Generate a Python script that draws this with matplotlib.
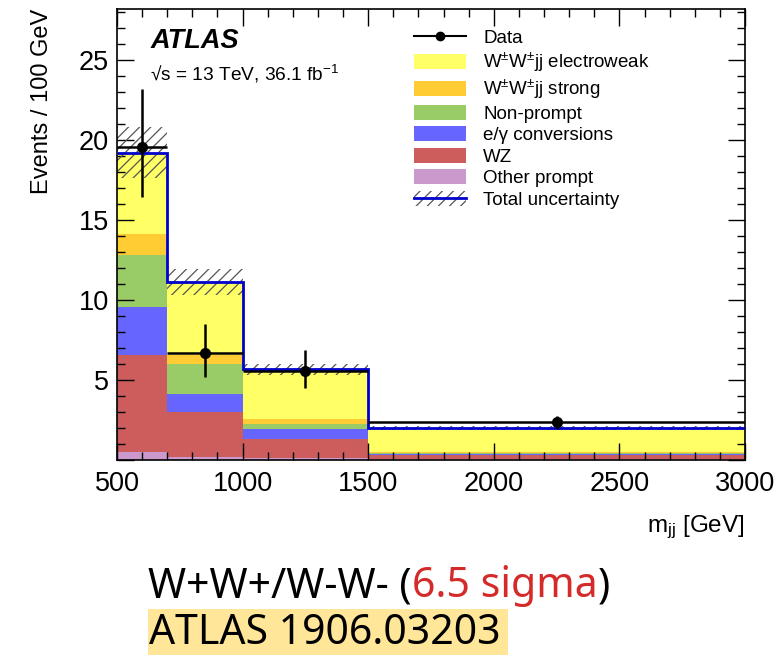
import matplotlib
matplotlib.use("Agg")
import matplotlib.pyplot as plt
import numpy as np
from matplotlib.patches import Patch, Rectangle
from matplotlib.lines import Line2D
from matplotlib.legend_handler import HandlerTuple
from matplotlib.ticker import MultipleLocator

# ---- data ----
edges = [500, 700, 1000, 1500, 3000]
other_prompt = [0.52, 0.21, 0.10, 0.06]
wz = [6.04, 2.81, 1.19, 0.25]
conversions = [3.02, 1.08, 0.63, 0.07]
non_prompt = [3.23, 1.875, 0.33, 0.05]
wwjj_strong = [1.29, 0.58, 0.31, 0.05]
wwjj_ew = [5.125, 4.58, 3.11, 1.50]
total_unc = [1.6, 0.8, 0.35, 0.12]

data_x = [600, 850, 1250, 2250]
data_y = [19.6, 6.67, 5.58, 2.35]
data_err_up = [3.6, 1.85, 1.3, 0.4]
data_err_dn = [3.15, 1.5, 1.06, 0.4]

components = ["Other prompt", "WZ", "e/\u03b3 conversions", "Non-prompt",
              "W$^{\\pm}$W$^{\\pm}$jj strong", "W$^{\\pm}$W$^{\\pm}$jj electroweak"]
values = [other_prompt, wz, conversions, non_prompt, wwjj_strong, wwjj_ew]
colors = ["#CC99CC", "#CD5C5C", "#6666FF", "#99CC66", "#FFCC33", "#FFFF66"]

xticks = [500, 1000, 1500, 2000, 2500, 3000]
xtick_labels = ["500", "1000", "1500", "2000", "2500", "3000"]
yticks = [0, 5, 10, 15, 20, 25]
ytick_labels = ["", "5", "10", "15", "20", "25"]

plt.rcParams['font.family'] = ['Liberation Sans', 'DejaVu Sans']
plt.rcParams['mathtext.fontset'] = 'custom'
plt.rcParams['mathtext.rm'] = 'Liberation Sans'
plt.rcParams['mathtext.it'] = 'Liberation Sans:italic'
plt.rcParams['hatch.linewidth'] = 0.9

fig = plt.figure(figsize=(7.74, 6.55), dpi=100)
ax = fig.add_axes([117/774, 1-460/655, (745-117)/774, (460-9)/655])

edges_a = np.array(edges, dtype=float)
widths = np.diff(edges_a)
bottom = np.zeros(len(widths))
for v, c in zip(values, colors):
    v = np.array(v)
    ax.stairs(bottom + v, edges_a, baseline=bottom, fill=True, color=c, lw=0, zorder=1)
    bottom = bottom + v
total = bottom

unc = np.array(total_unc)
ax.bar(edges_a[:-1], 2*unc, width=widths, bottom=total-unc, align='edge',
       fill=False, hatch='///', edgecolor='#555555', lw=0, zorder=2)
ax.stairs(total, edges_a, baseline=None, color='#0000CC', lw=2.0, zorder=3)

xerr = widths/2
ax.errorbar(data_x, data_y, xerr=xerr, yerr=[data_err_dn, data_err_up], fmt='o',
            color='black', ms=7, lw=1.8, capsize=0, zorder=5)

ax.set_xlim(500, 3000)
ax.set_ylim(0, 28.2)
ax.set_xticks(xticks, xtick_labels)
ax.set_yticks(yticks, ytick_labels)
ax.xaxis.set_minor_locator(MultipleLocator(100))
ax.yaxis.set_minor_locator(MultipleLocator(1))
ax.tick_params(which='both', direction='in', top=True, right=True, labelsize=19.5, width=1.0)
ax.tick_params(which='major', length=12)
ax.tick_params(which='minor', length=6)
ax.tick_params(axis='x', pad=8)
ax.tick_params(axis='y', pad=6)
for s in ax.spines.values():
    s.set_linewidth(1.2)

ax.set_ylabel("Events / 100 GeV", fontsize=17, loc='top', labelpad=18)
ax.set_xlabel("m$_{\\mathrm{jj}}$ [GeV]", fontsize=17.5, loc='right', labelpad=12)

ax.text(0.053, 0.93, "ATLAS", transform=ax.transAxes, fontsize=19.5, fontweight='bold',
        fontstyle='italic', va='center')
ax.text(0.053, 0.857, "\u221As = 13 TeV, 36.1 fb$^{-1}$", transform=ax.transAxes,
        fontsize=13.8, va='center')

# legend
handles = [Line2D([0], [0], color='black', marker='o', ms=6, lw=1.5)]
labels = ["Data"]
for lab, c in zip(components[::-1], colors[::-1]):
    handles.append(Patch(facecolor=c, edgecolor='none'))
    labels.append(lab)
unc_h = (Patch(facecolor='none', edgecolor='#555555', hatch='///', lw=0),
         Line2D([0], [0], color='#0000CC', lw=2))
handles.append(unc_h)
labels.append("Total uncertainty")
ax.legend(handles, labels, loc='upper left', bbox_to_anchor=(0.447, 0.99), frameon=False,
          fontsize=13.5, handlelength=2.8, handleheight=0.85, labelspacing=0.19,
          handletextpad=0.9, borderaxespad=0.45,
          handler_map={tuple: HandlerTuple(ndivide=1, pad=0)})

# bottom annotation
fs_b = 29.5
t1 = fig.text(148/774, 1-597/655, "W+W+/W-W- (", fontsize=fs_b, family='Noto Sans',
              color='black', va='baseline')
t2 = fig.text(0, 0, "6.5 sigma", fontsize=fs_b, family='Noto Sans', color='#D42A2A', va='baseline')
t3 = fig.text(0, 0, ")", fontsize=fs_b, family='Noto Sans', color='black', va='baseline')
fig.canvas.draw()
r = fig.canvas.get_renderer()
bb1 = t1.get_window_extent(r)
t2.set_position((bb1.x1/fig.bbox.width, t1.get_position()[1]))
bb2 = t2.get_window_extent(r)
t3.set_position((bb2.x1/fig.bbox.width, t1.get_position()[1]))

fig.patches.append(Rectangle((148/774, 0), (508-148)/774, 46/655, transform=fig.transFigure,
                             facecolor='#FFE699', edgecolor='none', zorder=0))
fig.text(149/774, 1-644/655, "ATLAS 1906.03203", fontsize=fs_b, family='Noto Sans',
         color='black', va='baseline', zorder=2)

fig.savefig("out.png", dpi=100)
